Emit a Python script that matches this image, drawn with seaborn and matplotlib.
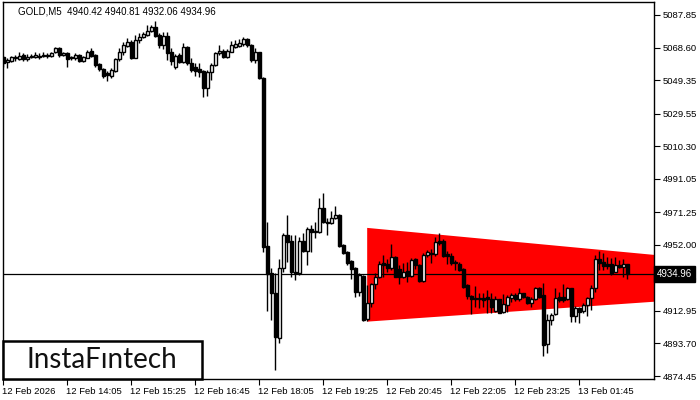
import matplotlib
matplotlib.use("Agg")
import matplotlib.pyplot as plt
import seaborn as sns
import numpy as np
import pandas as pd
from matplotlib.patches import Rectangle
import matplotlib.transforms as mtransforms

# ---------------- data ----------------
opens = [
    5062.8, 5060.3, 5060.9, 5062.2, 5061.8, 5064.2, 5061.8, 5062.8, 5063.2, 5063.8,
    5063.8, 5064.2, 5063.8, 5065.8, 5068.5, 5064.2, 5065.2, 5062.8, 5062.2, 5064.2,
    5060.7, 5062.6, 5066.8, 5064.2, 5058.7, 5055.9, 5053.4, 5052.0, 5054.8, 5061.6,
    5065.8, 5069.7, 5072.1, 5062.6, 5073.1, 5075.0, 5076.0, 5078.4, 5081.0, 5076.0,
    5070.1, 5075.6, 5065.8, 5056.9, 5064.2, 5060.3, 5068.7, 5059.7, 5057.3, 5055.7,
    5054.8, 5044.5, 5054.0, 5058.3, 5065.2, 5066.8, 5063.2, 5066.2, 5069.1, 5069.5,
    5070.7, 5073.5, 5070.1, 5061.3, 5065.8, 5050.4, 4951.3, 4935.2, 4923.3, 4897.1,
    4938.1, 4957.8, 4954.3, 4935.2, 4935.2, 4954.3, 4948.6, 4961.2, 4959.4, 4959.8,
    4974.0, 4965.3, 4964.7, 4967.7, 4969.6, 4951.9, 4947.9, 4942.4, 4938.1, 4924.3,
    4933.6, 4908.0, 4917.4, 4928.9, 4932.8, 4941.1, 4940.7, 4938.1, 4945.0, 4937.7,
    4933.2, 4936.7, 4933.6, 4943.4, 4940.1, 4930.8, 4946.0, 4947.4, 4946.6, 4954.3,
    4954.3, 4946.4, 4945.4, 4942.0, 4940.7, 4937.5, 4928.2, 4921.9, 4920.4, 4919.8,
    4920.8, 4920.9, 4919.8, 4912.9, 4919.8, 4912.1, 4916.4, 4920.8, 4922.4, 4919.8,
    4923.3, 4921.4, 4917.8, 4919.8, 4926.3, 4922.4, 4893.2, 4907.6, 4910.9, 4921.4,
    4921.0, 4920.0, 4926.3, 4910.1, 4914.5, 4912.9, 4916.4, 4920.4, 4926.3, 4943.4,
    4941.7, 4940.7, 4940.7, 4936.1, 4940.1, 4939.1, 4940.42,
]
highs = [
    5063.8, 5062.2, 5063.8, 5064.2, 5065.8, 5065.2, 5064.6, 5064.6, 5065.8, 5065.2,
    5065.8, 5065.2, 5066.2, 5069.1, 5069.1, 5066.2, 5065.8, 5063.8, 5065.2, 5064.8,
    5063.8, 5067.2, 5068.1, 5064.6, 5059.3, 5056.3, 5054.7, 5056.3, 5062.2, 5068.1,
    5072.1, 5074.5, 5073.1, 5076.0, 5077.0, 5078.0, 5082.0, 5082.0, 5084.3, 5077.0,
    5078.0, 5078.0, 5068.1, 5064.6, 5065.2, 5071.1, 5069.7, 5062.2, 5059.3, 5059.3,
    5055.3, 5055.3, 5059.3, 5066.2, 5070.1, 5067.6, 5067.6, 5072.5, 5073.1, 5073.7,
    5075.0, 5074.1, 5070.5, 5068.1, 5066.2, 5051.4, 4965.7, 4938.1, 4935.2, 4943.6,
    4958.8, 4969.6, 4957.8, 4957.8, 4956.8, 4958.8, 4962.7, 4963.7, 4965.7, 4979.9,
    4982.4, 4967.7, 4972.0, 4975.0, 4970.0, 4952.5, 4948.5, 4943.0, 4938.7, 4935.2,
    4934.2, 4928.2, 4929.2, 4935.2, 4942.6, 4946.0, 4943.4, 4952.5, 4945.6, 4940.1,
    4941.5, 4942.0, 4944.0, 4944.4, 4940.7, 4947.0, 4948.9, 4949.3, 4956.8, 4958.8,
    4955.3, 4948.4, 4947.0, 4943.0, 4942.0, 4938.1, 4928.9, 4922.3, 4927.7, 4923.3,
    4923.7, 4925.3, 4923.3, 4922.0, 4920.0, 4922.7, 4922.4, 4923.7, 4923.3, 4926.3,
    4923.7, 4922.0, 4921.4, 4926.9, 4926.9, 4929.2, 4911.1, 4911.5, 4926.7, 4924.3,
    4928.9, 4927.3, 4926.7, 4915.9, 4915.1, 4917.4, 4921.4, 4928.3, 4946.0, 4948.6,
    4947.0, 4944.6, 4944.0, 4945.0, 4943.0, 4943.4, 4940.81,
]
lows = [
    5056.9, 5056.3, 5060.3, 5060.7, 5061.3, 5060.9, 5060.9, 5062.2, 5062.2, 5061.8,
    5062.8, 5062.2, 5063.2, 5065.2, 5063.2, 5063.8, 5056.9, 5061.3, 5061.3, 5060.3,
    5060.3, 5062.2, 5063.2, 5056.9, 5054.7, 5050.4, 5049.0, 5050.4, 5054.4, 5060.9,
    5064.2, 5068.7, 5061.8, 5062.2, 5071.1, 5074.5, 5075.4, 5077.6, 5075.0, 5068.1,
    5067.8, 5061.3, 5058.3, 5055.9, 5059.3, 5059.3, 5058.3, 5054.0, 5052.0, 5051.4,
    5039.6, 5040.0, 5049.4, 5057.9, 5064.2, 5062.6, 5062.2, 5065.8, 5068.1, 5068.7,
    5069.5, 5069.1, 5060.3, 5059.3, 5050.0, 4948.0, 4912.9, 4907.6, 4878.0, 4893.8,
    4936.1, 4942.0, 4933.2, 4931.2, 4934.2, 4948.0, 4940.1, 4948.0, 4955.8, 4958.8,
    4964.7, 4957.8, 4964.1, 4967.3, 4950.5, 4946.6, 4940.1, 4931.6, 4920.9, 4921.8,
    4907.2, 4907.2, 4915.4, 4925.9, 4932.2, 4933.2, 4936.1, 4937.1, 4932.8, 4928.9,
    4932.2, 4930.2, 4932.8, 4937.5, 4930.2, 4930.2, 4945.0, 4941.1, 4945.6, 4951.9,
    4945.0, 4940.7, 4940.1, 4937.1, 4936.5, 4926.3, 4919.8, 4911.1, 4915.4, 4914.5,
    4915.4, 4911.9, 4911.9, 4912.1, 4911.5, 4911.9, 4912.5, 4918.4, 4918.8, 4919.0,
    4920.4, 4917.0, 4915.5, 4919.4, 4920.4, 4886.3, 4888.3, 4904.6, 4910.5, 4918.4,
    4918.4, 4919.4, 4906.6, 4906.6, 4906.0, 4911.9, 4909.9, 4913.5, 4924.3, 4937.1,
    4937.1, 4937.5, 4934.2, 4935.8, 4938.1, 4933.2, 4932.06,
]
closes = [
    5059.3, 5061.3, 5062.8, 5062.8, 5063.8, 5061.8, 5063.2, 5063.8, 5064.2, 5062.8,
    5064.4, 5063.4, 5065.2, 5068.1, 5064.2, 5065.6, 5061.8, 5062.2, 5064.2, 5060.7,
    5063.2, 5066.2, 5063.8, 5058.3, 5055.9, 5052.0, 5052.4, 5055.3, 5061.8, 5066.2,
    5070.1, 5071.7, 5062.6, 5073.1, 5075.0, 5076.4, 5078.6, 5081.0, 5075.6, 5070.1,
    5075.6, 5065.2, 5060.7, 5063.8, 5059.9, 5068.7, 5059.3, 5055.3, 5055.0, 5054.4,
    5044.5, 5054.0, 5058.3, 5065.6, 5066.6, 5063.2, 5066.8, 5070.1, 5070.5, 5071.5,
    5073.5, 5070.1, 5061.3, 5066.2, 5050.4, 4950.9, 4934.6, 4923.3, 4897.7, 4938.1,
    4957.8, 4953.9, 4936.1, 4935.8, 4954.5, 4948.6, 4961.2, 4959.4, 4960.2, 4974.0,
    4965.3, 4964.7, 4967.7, 4969.6, 4951.3, 4947.0, 4941.1, 4937.7, 4924.3, 4934.2,
    4907.6, 4917.4, 4928.9, 4932.8, 4940.7, 4940.1, 4938.1, 4944.6, 4933.2, 4932.8,
    4936.1, 4933.6, 4943.0, 4940.1, 4930.8, 4946.0, 4947.9, 4946.6, 4953.9, 4953.3,
    4945.6, 4945.6, 4941.5, 4941.1, 4937.1, 4927.3, 4921.8, 4919.8, 4919.8, 4920.8,
    4919.4, 4919.8, 4915.1, 4919.8, 4911.9, 4917.0, 4921.4, 4922.4, 4920.0, 4923.3,
    4921.4, 4917.8, 4919.8, 4926.3, 4921.4, 4892.8, 4907.6, 4910.5, 4920.4, 4919.4,
    4919.4, 4926.3, 4910.1, 4914.5, 4912.5, 4916.4, 4920.4, 4926.3, 4943.4, 4941.5,
    4939.7, 4939.7, 4935.2, 4940.1, 4939.1, 4940.7, 4934.96,
]

time_tick_bars = [0, 16, 32, 48, 64, 80, 96, 112, 128, 144]
time_tick_labels = ["12 Feb 2026", "12 Feb 14:05", "12 Feb 15:25", "12 Feb 16:45",
                    "12 Feb 18:05", "12 Feb 19:25", "12 Feb 20:45", "12 Feb 22:05",
                    "12 Feb 23:25", "13 Feb 01:45"]
price_ticks = [5087.85, 5068.60, 5049.35, 5029.55, 5010.30, 4991.05, 4971.25,
               4952.00, 4932.75, 4912.95, 4893.70, 4874.45]
last_price = 4934.96
title_text = "GOLD,M5  4940.42 4940.81 4932.06 4934.96"

# triangle (pennant) pattern corners: bar index and price
tri_bars = [91, 163.0, 163.0, 91]
tri_prices = [4962.0, 4946.0, 4918.4, 4906.6]

df = pd.DataFrame({"open": opens, "high": highs, "low": lows, "close": closes})
df["bar"] = np.arange(len(df))
df["up"] = df["close"] >= df["open"]

# ---------------- plot ----------------
sns.set_theme(style="white")
plt.rcParams["font.family"] = ["Liberation Sans", "DejaVu Sans"]

fig = plt.figure(figsize=(7, 4), dpi=100)
fig.patch.set_facecolor("white")
ax = fig.add_axes([3 / 700, 21 / 400, 651 / 700, 377 / 400])
ax.set_facecolor("white")

# red triangle
ax.fill(tri_bars, tri_prices, color="#ff0000", lw=0, zorder=1)

# current price line
ax.axhline(last_price, color="black", lw=0.9, zorder=2)

# wicks
ax.vlines(df["bar"], df["low"], df["high"], color="black", lw=1.0, zorder=3)

# bodies
body_bottom = np.minimum(df["open"], df["close"])
body_h = np.maximum(np.abs(df["close"] - df["open"]), 0.25)
colors = np.where(df["up"], "white", "black")
ax.bar(df["bar"], body_h, bottom=body_bottom, width=0.75, color=colors,
       edgecolor="black", linewidth=1.0, zorder=4)

ax.set_xlim(-0.1, 162.75)
ax.set_ylim(4872.7, 5095.5)

for s in ax.spines.values():
    s.set_color("black")
    s.set_linewidth(1.0)

ax.yaxis.tick_right()
ax.set_yticks(price_ticks)
ax.set_yticklabels([f"{p:.2f}" for p in price_ticks])
ax.tick_params(axis="y", direction="out", length=4, width=0.8, colors="black",
               labelsize=6.8, pad=2, right=True, left=False)
ax.set_xticks(time_tick_bars)
ax.set_xticklabels(time_tick_labels, ha="left")
ax.tick_params(axis="x", direction="out", length=4, width=0.8, colors="black",
               labelsize=6.8, pad=2, bottom=True)
offset = mtransforms.ScaledTranslation(-1 / 100, 0, fig.dpi_scale_trans)
for lbl in ax.get_xticklabels():
    lbl.set_transform(lbl.get_transform() + offset)
ax.grid(False)

# current price tag (covers the 4932.75 tick label, as in the original)
trans = mtransforms.blended_transform_factory(ax.transAxes, ax.transData)
ax.text(1.004, last_price, f"{last_price:.2f}", transform=trans, ha="left", va="center",
        fontsize=7, color="white", zorder=10, clip_on=False,
        bbox=dict(boxstyle="square,pad=0.3", fc="black", ec="black"))

# title
fig.text(18 / 700, 1 - 11 / 400, title_text, ha="left", va="center",
         fontsize=7, color="black")

# logo box
fig.add_artist(Rectangle((3 / 700, 21 / 400), 199 / 700, 38 / 400,
                         transform=fig.transFigure, facecolor="white",
                         edgecolor="black", linewidth=1.8, zorder=20))
fig.text(102 / 700, 1 - 360 / 400, "InstaF\u0131ntech", ha="center", va="center",
         fontsize=20, fontweight="normal", color="#111111",
         family=["Lato", "DejaVu Sans"], zorder=21)

fig.savefig("out.png", dpi=100, facecolor="white")
